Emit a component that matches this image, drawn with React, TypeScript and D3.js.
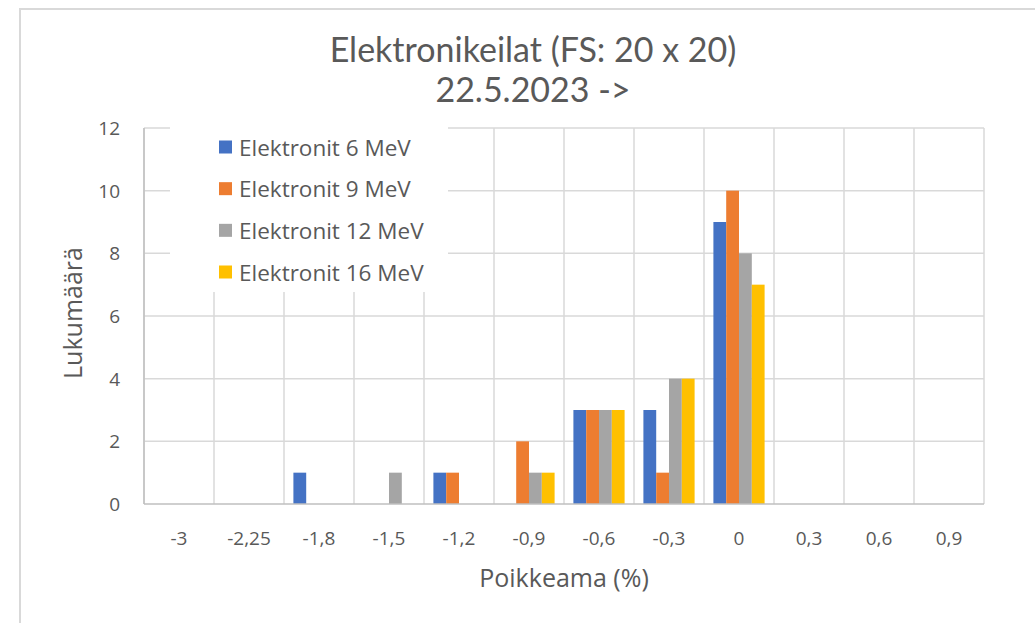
import React from "react";
import * as d3 from "d3";

const categories = ["-3", "-2,25", "-1,8", "-1,5", "-1,2", "-0,9", "-0,6", "-0,3", "0", "0,3", "0,6", "0,9"];
const seriesNames = ["Elektronit 6 MeV", "Elektronit 9 MeV", "Elektronit 12 MeV", "Elektronit 16 MeV"];
const e6 = [0, 0, 1, 0, 1, 0, 3, 3, 9, 0, 0, 0];
const e9 = [0, 0, 0, 0, 1, 2, 3, 1, 10, 0, 0, 0];
const e12 = [0, 0, 0, 1, 0, 1, 3, 4, 8, 0, 0, 0];
const e16 = [0, 0, 0, 0, 0, 1, 3, 4, 7, 0, 0, 0];
const seriesValues = [e6, e9, e12, e16];
const seriesColors = ["#4472C4", "#ED7D31", "#A5A5A5", "#FFC000"];
const yTicks = [0, 2, 4, 6, 8, 10, 12];
const titleLines = ["Elektronikeilat (FS: 20 x 20)", "22.5.2023 ->"];
const xTitle = "Poikkeama (%)";
const yTitle = "Lukumäärä";

const W = 1035;
const H = 623;
const plot = { left: 144, right: 984, top: 128, bottom: 504 };
const textColor = "#595959";
const gridColor = "#d9d9d9";
const axisColor = "#bfbfbf";
const font = "'Open Sans', 'Noto Sans', sans-serif";

export default function App() {
  const x = d3.scaleBand<string>().domain(categories).range([plot.left, plot.right]).paddingInner(0).paddingOuter(0);
  const xs = d3.scaleBand<string>().domain(seriesNames).range([0, x.bandwidth()]).paddingInner(0).paddingOuter(0.734);
  const y = d3.scaleLinear().domain([0, 12]).range([plot.bottom, plot.top]);
  const boundaries = categories.map((c) => x(c)!).concat([plot.right]);

  const legend = { x0: 170, x1: 448, y0: 120, y1: 292 };
  const legendRowY = d3.scalePoint<string>().domain(seriesNames).range([147, 272]);

  return (
    <svg width={W} height={H} style={{ position: "absolute", left: 0, top: 0, background: "#fff" }}>
      <rect x={0} y={0} width={W} height={H} fill="#fff" />
      <rect x={20} y={9} width={W + 50} height={H + 50} fill="#fff" stroke={gridColor} strokeWidth={2} />
      {titleLines.map((t, i) => (
        <text key={t} x={533} y={62 + i * 40} textAnchor="middle" fill={textColor}
          style={{ fontFamily: "Lato, sans-serif", fontWeight: 400, fontSize: 34 }}>{t}</text>
      ))}
      {/* horizontal gridlines */}
      {yTicks.filter((v) => v > 0).map((v) => (
        <line key={"h" + v} x1={plot.left} x2={plot.right} y1={y(v)} y2={y(v)} stroke={gridColor} strokeWidth={1.5} />
      ))}
      {/* vertical gridlines */}
      {boundaries.map((b, i) => (
        <line key={"v" + i} x1={b} x2={b} y1={plot.top} y2={plot.bottom} stroke={gridColor} strokeWidth={1.5} />
      ))}
      {/* legend backdrop */}
      <rect x={legend.x0} y={legend.y0} width={legend.x1 - legend.x0} height={legend.y1 - legend.y0} fill="#fff" />
      {/* bars */}
      {seriesNames.map((s, si) =>
        categories.map((c, ci) => {
          const v = seriesValues[si][ci];
          if (!v) return null;
          return (
            <rect key={s + c} x={x(c)! + xs(s)!} y={y(v)} width={xs.bandwidth()} height={y(0) - y(v)} fill={seriesColors[si]} />
          );
        })
      )}
      {/* axes */}
      <line x1={plot.left} x2={plot.left} y1={plot.top} y2={plot.bottom} stroke={axisColor} strokeWidth={1.5} />
      <line x1={plot.left} x2={plot.right} y1={plot.bottom} y2={plot.bottom} stroke={axisColor} strokeWidth={1.5} />
      {yTicks.map((v) => (
        <text key={"yt" + v} x={120} y={y(v)} textAnchor="end" dominantBaseline="central" fill={textColor}
          style={{ fontFamily: font, fontSize: 19 }}>{v}</text>
      ))}
      {categories.map((c) => (
        <text key={"xt" + c} x={x(c)! + x.bandwidth() / 2} y={538} textAnchor="middle" dominantBaseline="central" fill={textColor}
          style={{ fontFamily: font, fontSize: 19 }}>{c}</text>
      ))}
      <text x={(plot.left + plot.right) / 2} y={577} textAnchor="middle" dominantBaseline="central" fill={textColor}
        style={{ fontFamily: font, fontSize: 25 }}>{xTitle}</text>
      <text transform={`translate(72, ${(plot.top + plot.bottom) / 2 - 3}) rotate(-90)`} textAnchor="middle" dominantBaseline="central" fill={textColor}
        style={{ fontFamily: font, fontSize: 25 }}>{yTitle}</text>
      {/* legend */}
      {seriesNames.map((s, si) => (
        <g key={"lg" + s} transform={`translate(219, ${legendRowY(s)})`}>
          <rect x={0} y={-6.5} width={13} height={13} fill={seriesColors[si]} />
          <text x={20} y={0} dominantBaseline="central" fill={textColor} style={{ fontFamily: font, fontSize: 22.5 }}>{s}</text>
        </g>
      ))}
    </svg>
  );
}
